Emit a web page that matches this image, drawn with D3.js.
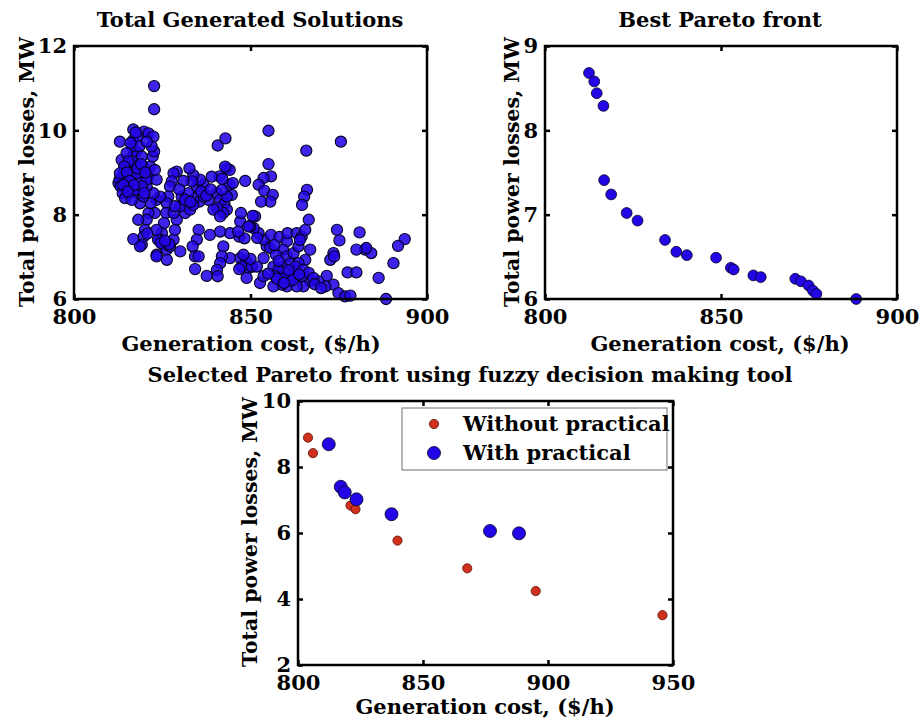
<!DOCTYPE html>
<html>
<head>
<meta charset="utf-8">
<script src="https://cdn.jsdelivr.net/npm/d3@7"></script>
<style>
  html, body { margin: 0; padding: 0; background: #fff; }
  svg { display: block; }
  text { font-family: "DejaVu Serif", serif; font-weight: bold; fill: #000; }
</style>
</head>
<body>
<svg id="chart" width="922" height="721"></svg>
<script>
// ---------------- DATA ----------------
// Panel 1: all generated solutions [cost $/h, losses MW]
const allSolutions = [
  [822.7,11.05],[822.7,10.50],[813.0,9.73],[816.8,10.02],[819.8,9.97],[821.1,9.93],[822.5,9.85],
  [855.1,9.99],[875.6,9.73],[865.8,9.52],[840.7,9.64],[842.9,9.81],[848.5,8.80],[855.1,9.20],
  [855.8,8.91],[853.7,8.87],[852.3,8.71],[853.9,8.57],[856.3,8.47],[855.6,8.31],[853.0,8.31],
  [866.0,8.59],[865.2,8.43],[864.6,8.23],[866.5,7.88],[874.5,7.64],[880.9,7.58],[893.7,7.42],
  [891.8,7.26],[890.5,6.85],[886.3,6.50],[888.4,6.00],[882.5,7.17],[884.2,7.09],[882.8,7.21],
  [880.0,7.17],[877.5,6.63],[880.0,6.63],[875.2,7.39],[873.5,7.09],[872.6,6.93],[873.7,7.01],
  [871.6,6.55],[873.5,6.34],[874.9,6.14],[876.8,6.06],[878.3,6.08],[871.2,6.30],[869.3,6.42],
  [866.9,6.42],[865.0,6.30],[864.5,6.54],[862.2,6.62],[861.2,6.42],[860.3,6.30],[859.4,6.50],
  [858.2,6.62],[856.5,6.77],[853.7,6.97],[854.6,7.25],[853.7,7.41],[852.3,7.56],[850.9,7.68],
  [851.3,7.96],[850.6,7.97],[849.9,7.72],[847.1,7.84],[847.3,8.04],[846.8,7.48],[848.3,7.44],
  [849.4,7.72],[847.1,6.97],[848.7,6.89],[849.4,6.73],[847.5,6.77],[848.9,6.50],[850.4,6.77],
  [851.8,6.77],[846.8,6.71],[852.7,6.38],[853.7,6.54],[855.6,7.21],[855.8,7.52],[858.2,7.47],
  [860.3,7.37],[860.5,7.56],[859.2,7.17],[860.3,7.01],[862.2,7.09],[861.2,6.84],[863.1,7.56],
  [863.6,7.25],[864.5,7.48],[865.5,7.64],[866.9,7.17],[865.5,6.93],[863.6,6.85],[862.7,6.77],
  [865.0,6.69],[866.5,6.62],[858.9,6.77],[857.9,6.69],[857.0,6.54],[861.2,6.54],[863.1,6.30],
  [858.9,6.34],[856.5,6.30],[859.8,6.50],[864.0,7.40],[857.2,7.05],[858.0,6.90],[860.8,6.68],
  [844.7,8.47],[844.0,8.71],[843.3,9.10],[844.1,9.06],[842.8,9.14],[841.2,8.91],[840.5,8.51],
  [841.4,8.35],[842.6,8.26],[843.3,8.12],[842.3,8.04],[840.5,8.16],[839.5,8.12],[841.4,7.96],
  [843.3,8.43],[841.9,8.59],[844.2,7.56],[841.4,7.60],[842.3,7.25],[844.2,6.97],[841.9,7.01],
  [841.4,6.85],[840.5,6.69],[840.7,6.54],[837.6,6.55],[838.5,7.52],[838.1,8.35],[834.8,8.67],
  [836.7,8.71],[835.7,8.83],[833.8,8.94],[833.4,8.79],[832.7,9.10],[834.3,8.39],[835.5,8.31],
  [836.8,8.43],[835.3,7.64],[834.8,7.41],[833.6,7.25],[834.3,7.01],[835.3,7.01],[834.3,6.71],
  [830.1,7.13],[831.5,8.04],[832.0,8.27],[830.5,8.43],[830.1,8.20],[832.4,8.51],[832.9,8.12],
  [833.8,8.23],[831.5,8.35],[829.1,9.02],[828.2,8.98],[827.7,8.79],[827.2,8.67],[826.7,8.43],
  [826.3,8.27],[826.1,8.04],[825.5,7.80],[824.9,7.56],[824.4,7.41],[825.3,7.29],[826.3,7.17],
  [827.2,7.25],[828.2,7.41],[828.6,7.64],[829.1,7.88],[828.2,8.04],[828.6,8.20],[826.3,6.93],
  [823.4,7.05],[823.8,7.41],[823.4,7.64],[822.9,8.04],[823.4,8.35],[824.4,8.43],[822.5,8.51],
  [821.1,8.04],[821.7,8.27],[820.6,7.88],[820.1,7.64],[819.7,7.48],[819.2,7.29],[818.7,7.25],
  [816.8,7.42],[818.2,7.88],[823.4,7.01],[824.6,7.33],[827.0,7.30],[825.8,7.38],[820.8,7.55],
  [812.6,8.75],[812.9,8.83],[813.2,8.67],[814.0,8.98],[814.5,9.14],[814.9,8.79],[815.4,8.59],
  [815.9,8.51],[816.4,8.91],[816.8,9.06],[817.3,9.22],[816.6,9.38],[817.6,9.50],[816.4,9.62],
  [816.8,9.77],[818.0,9.85],[818.5,9.62],[819.2,9.38],[819.7,9.14],[818.7,8.98],[817.8,8.79],
  [818.2,8.51],[818.7,8.27],[819.7,8.43],[820.6,8.67],[821.1,8.91],[820.6,8.83],[821.6,9.14],
  [822.3,9.38],[822.7,9.50],[822.0,9.62],[820.6,9.73],[813.5,9.30],[814.9,9.46],[815.4,9.26],
  [814.2,9.14],[813.0,8.98],[813.8,8.51],[814.5,8.39],[816.4,8.35],[817.3,8.59],[817.8,8.98],
  [819.2,8.67],[819.9,8.51],[823.4,8.83],[822.9,9.06],[815.0,9.00],[815.8,8.80],[817.0,8.70],
  [818.0,9.10],[819.0,9.20],[820.2,9.00],[816.0,9.70],[817.5,9.95],[814.0,8.70],[815.2,8.55],
  [836.0,8.55],[837.5,8.45],[838.7,8.60],[833.0,8.30],[831.0,8.80],[829.8,8.60],[839.0,8.90],
  [845.0,8.75],[842.0,8.85],[846.5,7.60],[851.9,7.45],[856.8,7.28],[857.5,6.48],[862.0,6.45],
  [863.8,6.58],[867.8,6.50],[868.2,6.35],[870.0,6.26],[859.5,6.38],[855.0,6.60],[850.0,6.95],
  [848.0,7.05]
];
const allXTicks = [800, 850, 900];
const allYTicks = [6, 8, 10, 12];

// Panel 2: best Pareto front
const paretoCost = [812.5,814.0,814.7,816.6,816.8,818.8,823.2,826.3,834.1,837.3,840.3,848.6,852.8,853.6,859.2,861.3,871.1,872.7,874.9,876.1,877.1,888.4];
const paretoLoss = [8.68,8.58,8.44,8.29,7.41,7.24,7.02,6.93,6.70,6.56,6.52,6.49,6.37,6.35,6.28,6.26,6.24,6.21,6.16,6.10,6.06,6.00];
const paretoXTicks = [800, 850, 900];
const paretoYTicks = [6, 7, 8, 9];

// Panel 3: selected Pareto front (fuzzy decision making)
const withoutCost = [804.0,806.0,821.0,823.0,839.8,867.7,895.1,945.8];
const withoutLoss = [8.89,8.42,6.83,6.72,5.77,4.93,4.24,3.51];
const withCost = [812.3,817.1,818.7,823.4,837.4,876.8,888.4];
const withLoss = [8.69,7.40,7.23,7.02,6.57,6.06,5.99];
const selXTicks = [800, 850, 900, 950];
const selYTicks = [2, 4, 6, 8, 10];
const seriesNames = ["Without practical", "With practical"];

const titles = ["Total Generated Solutions", "Best Pareto front", "Selected Pareto front using fuzzy decision making tool"];
const xLabel = "Generation cost, ($/h)";
const yLabel = "Total power losses, MW";

// ---------------- DRAW ----------------
const svg = d3.select("#chart");
const BLUE = "#2206e6", BLUE_EDGE = "#050220";
const RED = "#d0301c", RED_EDGE = "#5a1008";
const LABEL_FS = "21px", YLABEL_FS = "20.5px", TITLE_FS = "21px", TICK_FS = "21px";

function panel(box, xDomain, yDomain, xTicks, yTicks, title, titleX) {
  const x = d3.scaleLinear().domain(xDomain).range([box.l, box.r]);
  const y = d3.scaleLinear().domain(yDomain).range([box.b, box.t]);
  const g = svg.append("g");
  const tl = 5;
  const ax = g.append("g").attr("transform", `translate(0,${box.b})`)
    .call(d3.axisBottom(x).tickValues(xTicks).tickSize(-tl).tickPadding(10).tickFormat(d3.format("d")));
  const axT = g.append("g").attr("transform", `translate(0,${box.t})`)
    .call(d3.axisTop(x).tickValues(xTicks).tickSize(-tl).tickFormat(""));
  const ay = g.append("g").attr("transform", `translate(${box.l},0)`)
    .call(d3.axisLeft(y).tickValues(yTicks).tickSize(-tl).tickPadding(7).tickFormat(d3.format("d")));
  const ayR = g.append("g").attr("transform", `translate(${box.r},0)`)
    .call(d3.axisRight(y).tickValues(yTicks).tickSize(-tl).tickFormat(""));
  [ax, axT, ay, ayR].forEach(a => {
    a.select(".domain").remove();
    a.selectAll(".tick line").attr("stroke", "#000").attr("stroke-width", 2.5);
    a.selectAll(".tick text").style("font-size", TICK_FS).style("font-family", "DejaVu Serif, serif")
      .style("font-weight", "bold").attr("fill", "#000");
  });
  g.append("text").attr("x", titleX).attr("y", box.t - 19).attr("text-anchor", "middle")
    .style("font-size", TITLE_FS).text(title);
  const plot = g.append("g");
  g.append("rect").attr("x", box.l).attr("y", box.t)
    .attr("width", box.r - box.l).attr("height", box.b - box.t)
    .attr("fill", "none").attr("stroke", "#000").attr("stroke-width", 2.5);
  return { g, plot, x, y };
}

// Panel 1
const p1 = panel({ l: 74, r: 427, t: 46, b: 299 }, [800, 900], [6, 12], allXTicks, allYTicks, titles[0], 250);
p1.plot.selectAll("circle").data(allSolutions).join("circle")
  .attr("cx", d => p1.x(d[0])).attr("cy", d => p1.y(d[1])).attr("r", 5.6)
  .attr("fill", BLUE).attr("stroke", BLUE_EDGE).attr("stroke-width", 1.1).attr("fill-opacity", 0.88);
p1.g.append("text").attr("x", 251).attr("y", 351).attr("text-anchor", "middle").style("font-size", LABEL_FS).text(xLabel);
p1.g.append("text").attr("transform", "translate(34,172) rotate(-90)").attr("text-anchor", "middle").style("font-size", YLABEL_FS).text(yLabel);

// Panel 2
const p2 = panel({ l: 545, r: 897, t: 46, b: 299 }, [800, 900], [6, 9], paretoXTicks, paretoYTicks, titles[1], 720);
p2.plot.selectAll("circle").data(d3.range(paretoCost.length)).join("circle")
  .attr("cx", i => p2.x(paretoCost[i])).attr("cy", i => p2.y(paretoLoss[i])).attr("r", 5.4)
  .attr("fill", BLUE).attr("stroke", BLUE_EDGE).attr("stroke-width", 0.8);
p2.g.append("text").attr("x", 720).attr("y", 351).attr("text-anchor", "middle").style("font-size", LABEL_FS).text(xLabel);
p2.g.append("text").attr("transform", "translate(519,172) rotate(-90)").attr("text-anchor", "middle").style("font-size", YLABEL_FS).text(yLabel);

// Panel 3
const p3 = panel({ l: 298, r: 673, t: 401, b: 665 }, [800, 950], [2, 10], selXTicks, selYTicks, titles[2], 470);
p3.plot.append("g").selectAll("circle").data(d3.range(withoutCost.length)).join("circle")
  .attr("cx", i => p3.x(withoutCost[i])).attr("cy", i => p3.y(withoutLoss[i])).attr("r", 4.6)
  .attr("fill", RED).attr("stroke", RED_EDGE).attr("stroke-width", 0.8);
p3.plot.append("g").selectAll("circle").data(d3.range(withCost.length)).join("circle")
  .attr("cx", i => p3.x(withCost[i])).attr("cy", i => p3.y(withLoss[i])).attr("r", 6.5)
  .attr("fill", BLUE).attr("stroke", BLUE_EDGE).attr("stroke-width", 0.8);
p3.g.append("text").attr("x", 485).attr("y", 714).attr("text-anchor", "middle").style("font-size", LABEL_FS).text(xLabel);
p3.g.append("text").attr("transform", "translate(257,532) rotate(-90)").attr("text-anchor", "middle").style("font-size", YLABEL_FS).text(yLabel);

// Legend
const lg = svg.append("g");
lg.append("rect").attr("x", 402).attr("y", 408).attr("width", 265).attr("height", 62)
  .attr("fill", "#fff").attr("stroke", "#888").attr("stroke-width", 1.2);
const legendItems = [
  { name: seriesNames[0], fill: RED, edge: RED_EDGE, r: 4.6 },
  { name: seriesNames[1], fill: BLUE, edge: BLUE_EDGE, r: 6.5 }
];
legendItems.forEach((it, i) => {
  const cy = 424 + i * 29;
  lg.append("circle").attr("cx", 434).attr("cy", cy).attr("r", it.r)
    .attr("fill", it.fill).attr("stroke", it.edge).attr("stroke-width", 0.8);
  lg.append("text").attr("x", 463).attr("y", cy + 7).style("font-size", LABEL_FS).text(it.name);
});
</script>
</body>
</html>
